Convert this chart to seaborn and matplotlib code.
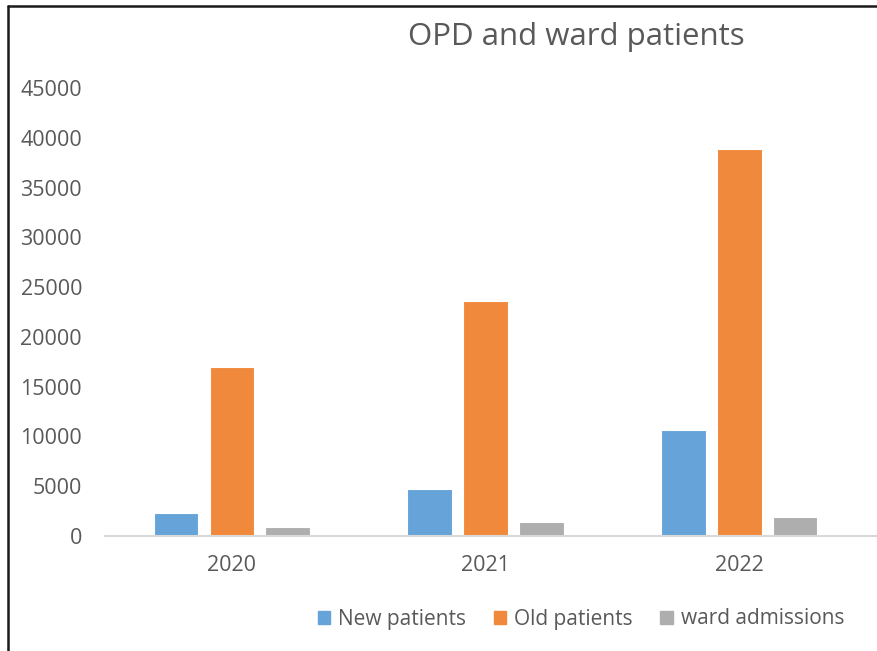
import pandas as pd
import matplotlib.pyplot as plt
import seaborn as sns
from matplotlib.lines import Line2D

# data
years = ['2020', '2021', '2022']
new_patients = [2300, 4700, 10600]
old_patients = [17000, 23650, 38900]
ward_admissions = [900, 1400, 1900]
series_names = ['New patients', 'Old patients', 'ward admissions']
colors = ['#66A3D8', '#F0893B', '#AEAEAE']

df = pd.DataFrame({
    'year': years * 3,
    'count': new_patients + old_patients + ward_admissions,
    'series': [s for s in series_names for _ in years],
})

sns.set_style("white")
plt.rcParams['font.family'] = ['Open Sans', 'DejaVu Sans']

fig = plt.figure(figsize=(8.78, 6.51), dpi=100)
ax = fig.add_axes([105 / 878, 1 - 536 / 651, 1 - 105 / 878, (536 - 88) / 651])

sns.barplot(data=df, x='year', y='count', hue='series', palette=colors, saturation=1,
            width=0.66, gap=0.2, ax=ax, edgecolor='white', linewidth=0.8,
            legend=False)

ax.set_ylim(0, 45000)
ax.set_xlim(-0.5, 2.547)
ax.set_yticks(range(0, 45001, 5000))
ax.set_xlabel('')
ax.set_ylabel('')
for side in ['left', 'right', 'top']:
    ax.spines[side].set_visible(False)
ax.spines['bottom'].set_color('#D9D9D9')
ax.spines['bottom'].set_linewidth(1.5)
ax.tick_params(axis='both', length=0, labelsize=15.5, colors='#595959')
ax.tick_params(axis='y', pad=16.5)
ax.tick_params(axis='x', pad=14)

fig.text(576 / 878, 1 - 37 / 651, 'OPD and ward patients', ha='center', va='center',
         fontsize=22.5, color='#595959')

handles = [plt.Rectangle((0, 0), 1, 1, color=c) for c in colors]
fig.legend(handles, series_names, loc='center', bbox_to_anchor=(581 / 878, 1 - 619 / 651),
           ncol=3, frameon=False, fontsize=15, labelcolor='#595959',
           handlelength=0.6, handleheight=0.6, handletextpad=0.4, columnspacing=1.3)

# frame lines around the screenshot edge
fig.add_artist(Line2D([8 / 878, 8 / 878], [0, 1 - 6 / 651], transform=fig.transFigure,
                      color='#1A1A1A', linewidth=1.8))
fig.add_artist(Line2D([8 / 878, 1], [1 - 6 / 651, 1 - 6 / 651], transform=fig.transFigure,
                      color='#1A1A1A', linewidth=1.8))

fig.savefig('out.png', dpi=100)
